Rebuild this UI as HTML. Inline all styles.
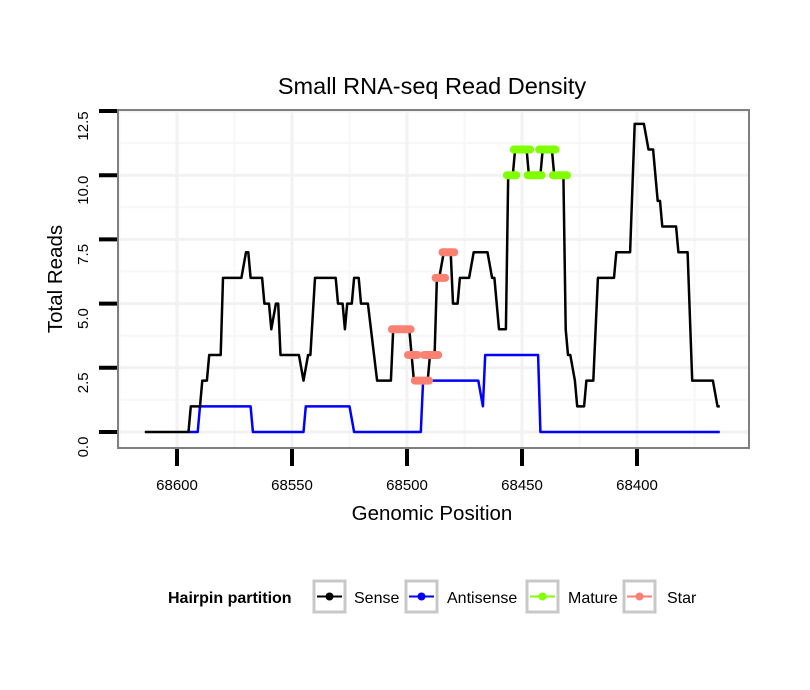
<!DOCTYPE html>
<html><head><meta charset="utf-8"><style>
html,body{margin:0;padding:0;background:#fff;}
svg{display:block;font-family:"Liberation Sans",sans-serif;}
</style></head><body>
<svg id="chart" width="810" height="690" viewBox="0 0 810 690">
<rect x="0" y="0" width="810" height="690" fill="#fff"/>
<text x="432" y="94" font-size="23.5" text-anchor="middle">Small RNA-seq Read Density</text>
<g id="grid"></g>
<g id="series"></g>
<rect x="118" y="110" width="631" height="338" fill="none" stroke="#7f7f7f" stroke-width="2"/>
<g id="axes"></g>
<text x="432" y="520" font-size="20.5" text-anchor="middle">Genomic Position</text>
<text transform="translate(62,279) rotate(-90)" font-size="20.5" text-anchor="middle">Total Reads</text>
<g font-size="16">
<text x="168" y="603" font-weight="bold">Hairpin partition</text>
<g><rect x="314" y="581" width="31" height="31" fill="#fff" stroke="#c8c8c8" stroke-width="3"/><line x1="317" y1="596.5" x2="342" y2="596.5" stroke="#000" stroke-width="2"/><circle cx="329.5" cy="596.5" r="4" fill="#000"/><text x="354" y="603">Sense</text></g>
<g><rect x="406" y="581" width="31" height="31" fill="#fff" stroke="#c8c8c8" stroke-width="3"/><line x1="409" y1="596.5" x2="434" y2="596.5" stroke="#0000ff" stroke-width="2"/><circle cx="421.5" cy="596.5" r="4" fill="#0000ff"/><text x="447" y="603">Antisense</text></g>
<g><rect x="527" y="581" width="31" height="31" fill="#fff" stroke="#c8c8c8" stroke-width="3"/><line x1="530" y1="596.5" x2="555" y2="596.5" stroke="#7fff00" stroke-width="2"/><circle cx="542.5" cy="596.5" r="4" fill="#7fff00"/><text x="568" y="603">Mature</text></g>
<g><rect x="624" y="581" width="31" height="31" fill="#fff" stroke="#c8c8c8" stroke-width="3"/><line x1="627" y1="596.5" x2="652" y2="596.5" stroke="#fa8072" stroke-width="2"/><circle cx="639.5" cy="596.5" r="4" fill="#fa8072"/><text x="667" y="603">Star</text></g>
</g>
</svg>
<script>
const xTicks=[68600,68550,68500,68450,68400];
const yTicks=[0,2.5,5,7.5,10,12.5];
const yTickLabels=["0.0","2.5","5.0","7.5","10.0","12.5"];
const senseX=[68614,68595,68594,68590,68589,68587,68586,68581,68580,68572,68570,68569,68568,68563,68562,68560,68559,68557,68556,68555,68547,68545,68543,68542,68540,68531,68530,68528,68527,68526,68524,68523,68521,68520,68517,68513,68507,68506,68499,68498,68497,68491,68490,68488,68487,68486,68484,68481,68480,68478,68477,68473,68471,68465,68463,68462,68460,68457,68456,68454,68453,68448,68447,68442,68441,68437,68436,68432,68431,68430,68429,68427,68426,68423,68422,68419,68417,68410,68409,68403,68401,68397,68395,68393,68391,68390,68389,68383,68382,68378,68376,68367,68365,68364];
const senseY=[0,0,1,1,2,2,3,3,6,6,7,7,6,6,5,5,4,5,5,3,3,2,3,3,6,6,5,5,4,5,5,6,6,5,5,2,2,4,4,3,2,2,3,3,6,6,7,7,5,5,6,6,7,7,6,6,4,4,10,10,11,11,10,10,11,11,10,10,4,3,3,2,1,1,2,2,6,6,7,7,12,12,11,11,9,9,8,8,7,7,2,2,1,1];
const antiX=[68595,68591,68590,68568,68567,68545,68544,68525,68523,68494,68493,68469,68467,68466,68443,68442,68364];
const antiY=[0,0,1,1,0,0,1,1,0,0,2,2,1,3,3,0,0];
const matureStart=[68457,68454,68448,68443,68437];
const matureEnd=[68452,68446,68441,68435,68430];
const matureVal=[10,11,10,11,10];
const starStart=[68507,68500,68497,68493,68488,68485];
const starEnd=[68498,68495,68490,68486,68483,68479];
const starVal=[4,3,2,3,6,7];

const NS="http://www.w3.org/2000/svg";
const xs=v=>177+(68600-v)*2.3;
const ys=v=>432-v*25.68;
function mk(tag,attrs,parent){const e=document.createElementNS(NS,tag);for(const k in attrs)e.setAttribute(k,attrs[k]);parent.appendChild(e);return e;}
const grid=document.getElementById('grid'),axes=document.getElementById('axes'),series=document.getElementById('series');
for(let i=0;i<yTicks.length-1;i++){const y=ys((yTicks[i]+yTicks[i+1])/2);const l=mk('line',{x1:118,x2:749,y1:y,y2:y,stroke:'#f7f7f7','stroke-width':2},grid);}
for(let i=0;i<xTicks.length;i++){const x=xs(xTicks[i]+25);if(x>118){const l=mk('line',{x1:x,x2:x,y1:110,y2:448,stroke:'#f7f7f7','stroke-width':2},grid);}}
{const x=xs(xTicks[xTicks.length-1]-25);const l=mk('line',{x1:x,x2:x,y1:110,y2:448,stroke:'#f7f7f7','stroke-width':2},grid);}
yTicks.forEach((t,i)=>{const y=ys(t);
const g=mk('line',{x1:118,x2:749,y1:y,y2:y,stroke:'#f2f2f2','stroke-width':3},grid);
const tk=mk('line',{x1:99,x2:117,y1:y,y2:y,stroke:'#000','stroke-width':4},axes);
const tx=mk('text',{transform:`translate(88,${y+15}) rotate(-90)`,'font-size':15,'text-anchor':'middle'},axes);tx.textContent=yTickLabels[i];});
xTicks.forEach(t=>{const x=xs(t);
const g=mk('line',{x1:x,x2:x,y1:110,y2:448,stroke:'#f2f2f2','stroke-width':3},grid);
const tk=mk('line',{x1:x,x2:x,y1:449,y2:466,stroke:'#000','stroke-width':4},axes);
const tx=mk('text',{x:x,y:490,'font-size':15,'text-anchor':'middle'},axes);tx.textContent=t;});
function line(X,Y,color,name){const p=mk('polyline',{points:X.map((v,i)=>xs(v)+','+ys(Y[i])).join(' '),fill:'none',stroke:color,'stroke-width':2.5,'stroke-linejoin':'round'},series);}
line(antiX,antiY,'#0000ff','antisense-line');
line(senseX,senseY,'#000','sense-line');
function segs(S,E,V,color,name){S.forEach((s,i)=>{const x1=xs(s)+1,x2=xs(E[i])-1,y=ys(V[i]);const l=mk('line',{x1:x1,x2:Math.max(x1,x2),y1:y,y2:y,stroke:color,'stroke-width':8,'stroke-linecap':'round'},series);});}
segs(matureStart,matureEnd,matureVal,'#7fff00','mature-segment');
segs(starStart,starEnd,starVal,'#fa8072','star-segment');
</script>
</body></html>
